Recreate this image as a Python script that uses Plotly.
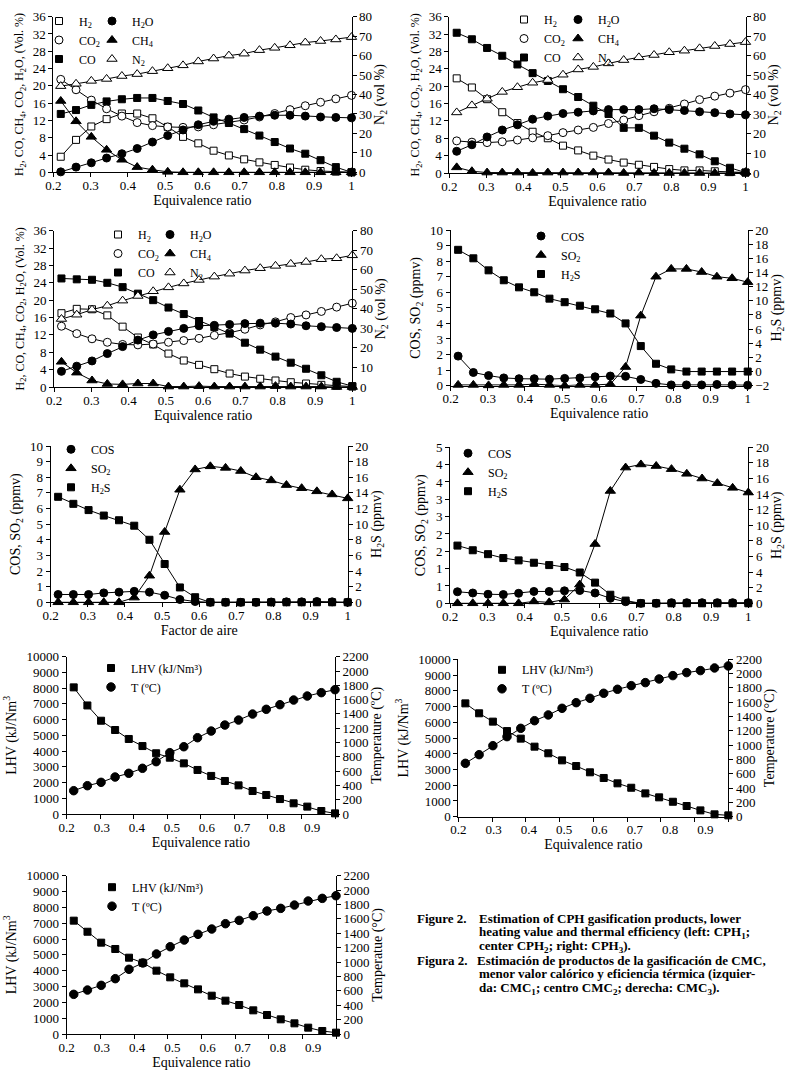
import plotly.graph_objects as go
import numpy as np

W, H = 803, 1086
FONT = "Liberation Serif"

# ---------------- data ----------------
x_er = [0.22, 0.261, 0.302, 0.343, 0.384, 0.425, 0.466, 0.507, 0.548, 0.589,
        0.63, 0.671, 0.712, 0.753, 0.794, 0.835, 0.876, 0.917, 0.958, 1.0]
x_er_lhv = [0.22, 0.259, 0.298, 0.338, 0.377, 0.416, 0.455, 0.494, 0.534, 0.573,
            0.612, 0.651, 0.69, 0.73, 0.769, 0.808, 0.847, 0.886, 0.926, 0.965]

# Panel 1 (CPH1 gas composition)
p1_h2 = [3.6, 7.5, 10.6, 12.3, 13.6, 13.6, 12.5, 10.5, 8.2, 6.7, 5.0, 3.9, 3.0, 2.3, 1.7, 1.1, 0.6, 0.3, 0.15, 0.0]
p1_co2 = [21.5, 19.1, 16.7, 14.7, 13.0, 11.5, 10.8, 10.5, 10.4, 10.5, 11.0, 11.6, 12.1, 12.8, 13.6, 14.5, 15.4, 16.2, 17.0, 17.8]
p1_co = [13.5, 14.4, 15.6, 16.4, 16.9, 17.2, 17.2, 16.5, 15.8, 14.3, 12.7, 11.4, 10.0, 8.5, 7.0, 5.5, 4.3, 2.8, 1.2, 0.0]
p1_h2o = [0.1, 1.2, 2.2, 3.3, 4.3, 5.5, 7.0, 8.5, 9.8, 11.0, 11.8, 12.3, 12.7, 13.0, 13.2, 13.2, 13.0, 12.8, 12.7, 12.6]
p1_ch4 = [16.5, 11.8, 8.2, 5.2, 2.9, 1.2, 0.6, 0.1, 0.0, 0.0, 0.0, 0.0, 0.0, 0.0, 0.0, 0.0, 0.0, 0.0, 0.0, 0.0]
p1_n2 = [44.3, 45.5, 47.0, 48.0, 49.5, 50.5, 52.0, 53.5, 55.0, 57.0, 58.5, 60.0, 61.0, 62.8, 64.0, 65.3, 66.7, 67.5, 68.3, 69.5]

# Panel 2 (CPH2 gas composition)
p2_h2 = [21.8, 19.7, 17.0, 14.0, 11.5, 9.5, 8.0, 6.3, 5.2, 4.0, 3.1, 2.4, 1.9, 1.4, 0.9, 0.6, 0.6, 0.4, 0.2, 0.1]
p2_co2 = [7.4, 7.1, 7.0, 7.2, 7.6, 8.1, 8.6, 9.3, 9.9, 10.5, 11.4, 12.2, 13.2, 14.1, 14.9, 15.9, 16.9, 17.7, 18.4, 19.2]
p2_co = [32.3, 30.8, 28.8, 27.0, 25.0, 23.0, 21.2, 19.3, 17.5, 15.5, 13.6, 10.4, 10.4, 8.6, 7.0, 5.6, 4.3, 2.7, 1.2, 0.1]
p2_h2o = [5.0, 6.5, 8.3, 9.9, 11.1, 12.4, 13.1, 13.7, 14.0, 14.3, 14.6, 14.6, 14.6, 14.8, 14.6, 14.4, 14.1, 13.9, 13.6, 13.4]
p2_ch4 = [1.3, 0.4, 0.1, 0.1, 0.1, 0.0, 0.1, 0.1, 0.1, 0.1, 0.1, 0.0, 0.1, 0.0, 0.0, 0.0, 0.0, 0.0, 0.0, 0.2]
p2_n2 = [31.0, 34.6, 38.0, 41.5, 43.9, 46.2, 47.6, 50.3, 53.0, 54.3, 56.1, 57.8, 59.2, 60.4, 61.8, 62.6, 63.8, 65.0, 66.0, 67.0]

# Panel 3 (CPH3 gas composition)
p3_h2 = [17.0, 18.0, 17.9, 16.5, 13.9, 11.4, 9.8, 7.7, 6.1, 5.1, 4.1, 3.1, 2.4, 1.9, 1.5, 1.1, 0.8, 0.5, 0.3, 0.1]
p3_co2 = [14.0, 12.3, 11.1, 10.3, 9.8, 9.7, 9.9, 10.3, 10.7, 11.2, 11.9, 12.5, 13.3, 14.3, 15.0, 16.0, 16.6, 17.4, 18.4, 19.3]
p3_co = [25.0, 24.8, 24.7, 24.0, 23.0, 21.5, 20.0, 18.3, 16.8, 15.2, 13.8, 12.3, 10.2, 8.6, 7.0, 5.6, 4.2, 2.7, 1.2, 0.2]
p3_h2o = [3.6, 4.8, 6.0, 7.7, 9.3, 10.8, 12.0, 12.8, 13.5, 14.1, 14.2, 14.4, 14.6, 14.7, 14.7, 14.5, 14.1, 13.9, 13.7, 13.5]
p3_ch4 = [5.8, 3.3, 1.5, 0.7, 0.6, 0.8, 0.8, 0.1, 0.1, 0.2, 0.1, 0.1, 0.1, 0.1, 0.2, 0.1, 0.1, 0.1, 0.0, 0.0]
p3_n2 = [34.8, 37.0, 39.6, 41.6, 44.2, 46.6, 49.0, 51.0, 53.0, 54.8, 56.5, 58.0, 59.6, 60.8, 62.0, 63.0, 64.0, 65.4, 65.9, 67.4]

# Panel 4 (sulphur species, ER)
p4_cos = [1.9, 0.85, 0.65, 0.5, 0.45, 0.45, 0.42, 0.47, 0.5, 0.57, 0.62, 0.6, 0.4, 0.15, 0.05, 0.05, 0.05, 0.08, 0.05, 0.03]
p4_so2 = [0.05, 0.05, 0.02, 0.05, 0.05, 0.1, 0.05, 0.0, 0.05, 0.05, 0.1, 1.2, 4.5, 7.0, 7.5, 7.5, 7.3, 7.0, 6.9, 6.65]
p4_h2s = [17.2, 16.0, 14.3, 12.9, 11.9, 11.2, 10.3, 9.8, 9.3, 8.8, 8.2, 6.8, 3.6, 1.1, 0.3, 0.0, 0.0, 0.0, 0.0, 0.0]

# Panel 5 (sulphur species, factor de aire)
p5_cos = [0.5, 0.5, 0.5, 0.6, 0.65, 0.7, 0.65, 0.45, 0.18, 0.05, 0.0, 0.0, 0.0, 0.0, 0.02, 0.03, 0.03, 0.05, 0.03, 0.0]
p5_so2 = [0.0, 0.0, 0.0, 0.0, 0.0, 0.3, 1.7, 4.5, 7.2, 8.5, 8.7, 8.6, 8.4, 8.0, 7.8, 7.5, 7.3, 7.1, 6.9, 6.65]
p5_h2s = [13.5, 12.6, 11.8, 11.1, 10.5, 9.8, 8.0, 4.9, 1.9, 0.65, 0.0, 0.0, 0.0, 0.0, 0.0, 0.0, 0.0, 0.0, 0.0, 0.0]

# Panel 6 (sulphur species, ER)
p6_cos = [0.37, 0.33, 0.29, 0.28, 0.32, 0.38, 0.38, 0.40, 0.41, 0.33, 0.16, 0.05, 0.0, 0.0, 0.02, 0.02, 0.02, 0.02, 0.02, 0.02]
p6_so2 = [0.0, 0.0, 0.0, 0.0, 0.0, 0.06, 0.03, 0.12, 0.6, 1.9, 3.6, 4.35, 4.45, 4.4, 4.3, 4.15, 4.0, 3.85, 3.7, 3.55]
p6_h2s = [7.4, 6.8, 6.3, 5.8, 5.5, 5.2, 4.9, 4.65, 3.95, 2.65, 1.1, 0.35, 0.0, 0.0, 0.0, 0.0, 0.0, 0.0, 0.0, 0.0]

# Panels 7-9 (LHV and temperature)
p7_lhv = [8050, 6900, 5930, 5340, 4770, 4320, 3860, 3580, 3220, 2800, 2420, 2100, 1820, 1460, 1210, 950, 680, 470, 190, 40]
p7_t = [326, 396, 443, 517, 569, 639, 732, 858, 941, 1067, 1160, 1244, 1314, 1398, 1464, 1529, 1594, 1650, 1697, 1739]
p8_lhv = [7200, 6570, 6040, 5440, 4960, 4450, 4030, 3580, 3220, 2820, 2460, 2120, 1840, 1480, 1230, 950, 680, 400, 150, 85]
p8_t = [746, 867, 993, 1119, 1235, 1342, 1422, 1515, 1594, 1655, 1725, 1781, 1832, 1874, 1925, 1972, 2014, 2042, 2079, 2107]
p9_lhv = [7160, 6460, 5770, 5370, 4820, 4500, 4000, 3580, 3200, 2820, 2420, 2105, 1830, 1495, 1200, 926, 674, 400, 190, 84]
p9_t = [551, 611, 676, 769, 899, 987, 1112, 1213, 1306, 1385, 1459, 1533, 1579, 1644, 1709, 1746, 1792, 1848, 1885, 1922]

er_ticks = [0.2, 0.3, 0.4, 0.5, 0.6, 0.7, 0.8, 0.9, 1.0]
er_ticktext = ["0.2", "0.3", "0.4", "0.5", "0.6", "0.7", "0.8", "0.9", "1"]
er_ticks_lhv = [0.2, 0.3, 0.4, 0.5, 0.6, 0.7, 0.8, 0.9]
er_ticktext_lhv = ["0.2", "0.3", "0.4", "0.5", "0.6", "0.7", "0.8", "0.9"]

GAS_L = "H<sub>2</sub>, CO, CH<sub>4</sub>, CO<sub>2</sub>, H<sub>2</sub>O, (Vol. %)"
GAS_R = "N<sub>2</sub> (vol %)"
S_L = "COS, SO<sub>2</sub> (ppmv)"
S_R = "H<sub>2</sub>S (ppmv)"
LHV_L = "LHV (kJ/Nm<sup>3</sup>"

# ---------------- layout helpers ----------------
def xp(p):
    return p / W

def yp(p):
    return 1 - p / H

def ref(kind, n):
    return kind + ("" if n == 1 else str(n))

def lname(kind, n):
    return kind + "axis" + ("" if n == 1 else str(n))

axis_common = dict(showline=True, linecolor="black", linewidth=1, ticks="outside",
                   ticklen=4, tickwidth=1, tickcolor="black", showgrid=False,
                   zeroline=False, automargin=False,
                   tickfont=dict(family=FONT, size=13, color="black"))

def gas_series(h2, co2, co, h2o, ch4, n2, la, lb):
    return [
        ("H<sub>2</sub>", h2, "L", "square", False, la, 7),
        ("CO<sub>2</sub>", co2, "L", "circle", False, la, 8),
        ("CO", co, "L", "square", True, la, 7),
        ("H<sub>2</sub>O", h2o, "L", "circle", True, lb, 8),
        ("CH<sub>4</sub>", ch4, "L", "triangle-up", True, lb, 9),
        ("N<sub>2</sub>", n2, "R", "triangle-up", False, lb, 9),
    ]

def s_series(cos, so2, h2s, la):
    return [
        ("COS", cos, "L", "circle", True, la, 8),
        ("SO<sub>2</sub>", so2, "L", "triangle-up", True, la, 9),
        ("H<sub>2</sub>S", h2s, "R", "square", True, la, 7),
    ]

def lhv_series(lhv, t, la):
    return [
        ("LHV (kJ/Nm³)", lhv, "L", "square", True, la, 7),
        ("T (ºC)", t, "R", "circle", True, la, 8.5),
    ]

p6_lt = list(np.linspace(0, 5, 10))
panels = [
    dict(box=(53.3, 351.5, 16.7, 172.3), x=x_er, xt="Equivalence ratio", lr=[0, 36], ld=4, rr=[0, 80], rd=10,
         ylt=GAS_L, yrt=GAS_R, rstand=0,
         ser=gas_series(p1_h2, p1_co2, p1_co, p1_h2o, p1_ch4, p1_n2, "legend", "legend2")),
    dict(box=(449.3, 745.5, 16.7, 173.0), x=x_er, xt="Equivalence ratio", lr=[0, 36], ld=4, rr=[0, 80], rd=10,
         ylt=GAS_L, yrt=GAS_R, rstand=2,
         ser=gas_series(p2_h2, p2_co2, p2_co, p2_h2o, p2_ch4, p2_n2, "legend3", "legend4")),
    dict(box=(54.0, 352.3, 230.7, 387.0), x=x_er, xt="Equivalence ratio", lr=[0, 36], ld=4, rr=[0, 80], rd=10,
         ylt=GAS_L, yrt=GAS_R, rstand=0,
         ser=gas_series(p3_h2, p3_co2, p3_co, p3_h2o, p3_ch4, p3_n2, "legend5", "legend6")),
    dict(box=(450.7, 747.7, 230.0, 385.7), x=x_er, xt="Equivalence ratio", lr=[0, 10], ld=1, rr=[-2, 20], rd=2,
         ylt=S_L, yrt=S_R, rstand=2, ser=s_series(p4_cos, p4_so2, p4_h2s, "legend7")),
    dict(box=(50.7, 347.7, 446.0, 602.3), x=x_er, xt="Factor de aire", lr=[0, 10], ld=1, rr=[0, 20], rd=2,
         ylt=S_L, yrt=S_R, rstand=2, ser=s_series(p5_cos, p5_so2, p5_h2s, "legend8")),
    dict(box=(450.0, 748.3, 447.3, 603.3), x=x_er, xt="Equivalence ratio", lr=[0, 5], ld=None, rr=[0, 20], rd=2,
         ylt=S_L, yrt=S_R, rstand=2, ser=s_series(p6_cos, p6_so2, p6_h2s, "legend9"),
         ltv=p6_lt, ltt=[str(int(round(v))) for v in p6_lt]),
    dict(box=(66.7, 335.0, 656.7, 814.0), x=x_er_lhv, xt="Equivalence ratio", lr=[0, 10000], ld=1000, rr=[0, 2200], rd=200,
         ylt=LHV_L, yrt="Temperature (ºC)", rstand=2, ser=lhv_series(p7_lhv, p7_t, "legend10"), lhv=True),
    dict(box=(458.3, 728.3, 659.3, 816.7), x=x_er_lhv, xt="Equivalence ratio", lr=[0, 10000], ld=1000, rr=[0, 2200], rd=200,
         ylt=LHV_L, yrt="Temperature (°C)", rstand=2, ser=lhv_series(p8_lhv, p8_t, "legend11"), lhv=True),
    dict(box=(66.7, 336.0, 875.7, 1034.0), x=x_er_lhv, xt="Equivalence ratio", lr=[0, 10000], ld=1000, rr=[0, 2200], rd=200,
         ylt=LHV_L, yrt="Temperatue (°C)", rstand=2, ser=lhv_series(p9_lhv, p9_t, "legend12"), lhv=True),
]

# legend placement: (left px, top px)
legend_pos = {
    "legend": (39, 6.5), "legend2": (92, 6.5),
    "legend3": (504, 5), "legend4": (558, 5),
    "legend5": (98, 220), "legend6": (150, 220),
    "legend7": (521, 221.5), "legend8": (51, 434.8), "legend9": (448, 438.7),
    "legend10": (91, 653.5), "legend11": (482, 655.3), "legend12": (92, 872.7),
}

fig = go.Figure()
layout = dict(template="none", width=W, height=H, margin=dict(l=0, r=0, t=0, b=0, autoexpand=False),
              paper_bgcolor="white", plot_bgcolor="white", showlegend=True,
              font=dict(family=FONT, color="black"))

title_font = dict(family=FONT, size=14, color="black")
gas_title_font = dict(family=FONT, size=12, color="black")

for k, p in enumerate(panels, start=1):
    x0, x1, yt, yb = p["box"]
    xr, yl, yr = ref("x", k), ref("y", 2 * k - 1), ref("y", 2 * k)
    xdom = [xp(x0), xp(x1)]
    ydom = [yp(yb), yp(yt)]
    xa = dict(axis_common, domain=xdom, anchor=yl, ticklabelstandoff=-3,
              title=dict(text=p["xt"], font=title_font, standoff=0))
    if p.get("lhv"):
        lo, hi = 0.2, 0.965
        xa.update(range=[lo, hi], tickmode="array", tickvals=er_ticks_lhv, ticktext=er_ticktext_lhv,
                  tickcolor="rgba(0,0,0,0)",
                  minor=dict(tickmode="array", tickvals=list(np.linspace(lo, hi, 9)), ticks="outside",
                             ticklen=4, tickcolor="black", tickwidth=1))
    else:
        xa.update(range=[0.2, 1.0], tickmode="array", tickvals=er_ticks, ticktext=er_ticktext)
    layout[lname("x", k)] = xa

    lt_font = gas_title_font if p["ylt"] == GAS_L else title_font
    ya = dict(axis_common, domain=ydom, anchor=xr, range=p["lr"], side="left",
              title=dict(text=p["ylt"], font=lt_font, standoff=6))
    if p["ld"] is None:
        ya.update(tickmode="array", tickvals=p["ltv"], ticktext=p["ltt"])
    else:
        ya.update(tick0=p["lr"][0], dtick=p["ld"], tickformat="d")
    layout[lname("y", 2 * k - 1)] = ya

    yb_ax = dict(axis_common, domain=ydom, anchor=xr, overlaying=yl, side="right",
                 range=p["rr"], tick0=p["rr"][0], dtick=p["rd"], tickformat="d",
                 title=dict(text=p["yrt"], font=title_font, standoff=p["rstand"]))
    layout[lname("y", 2 * k)] = yb_ax

    for (name, vals, side, sym, filled, leg, size) in p["ser"]:
        ya_ref = yl if side == "L" else yr
        fig.add_trace(go.Scatter(x=p["x"], y=vals, xaxis=xr, yaxis=ya_ref, mode="lines",
                                 line=dict(color="black", width=1), showlegend=False,
                                 hoverinfo="skip", cliponaxis=False))
        fig.add_trace(go.Scatter(x=p["x"], y=vals, xaxis=xr, yaxis=ya_ref, mode="markers",
                                 name=name, legend=leg, cliponaxis=False,
                                 marker=dict(symbol=sym, size=size,
                                             color="black" if filled else "white",
                                             line=dict(color="black", width=1))))

for lg, (lx, ly) in legend_pos.items():
    layout[lg] = dict(x=xp(lx), y=yp(ly), xanchor="left", yanchor="top",
                      bgcolor="rgba(0,0,0,0)", borderwidth=0, itemwidth=30,
                      font=dict(family=FONT, size=12, color="black"))

# caption
cap_font = dict(family=FONT, size=13, color="black")
caption = [
    (415, 918.3, "<b>Figure 2.</b>"),
    (477, 918.3, "<b>Estimation of CPH gasification products, lower</b>"),
    (477, 932.0, "<b>heating value and thermal efficiency (left: CPH<sub>1</sub>;</b>"),
    (477, 946.0, "<b>center CPH<sub>2</sub>; right: CPH<sub>3</sub>).</b>"),
    (415, 960.0, "<b>Figura 2.</b>"),
    (475, 960.0, "<b>Estimación de productos de la gasificación de CMC,</b>"),
    (477, 973.3, "<b>menor valor calórico y eficiencia térmica (izquier-</b>"),
    (477, 988.0, "<b>da: CMC<sub>1</sub>; centro CMC<sub>2</sub>; derecha: CMC<sub>3</sub>).</b>"),
]
layout["annotations"] = [dict(x=xp(cx), y=yp(cy), xref="paper", yref="paper", text=t,
                              showarrow=False, xanchor="left", yanchor="middle", font=cap_font)
                         for cx, cy, t in caption]

fig.update_layout(**layout)
fig.write_html("out.html", config={"displayModeBar": False},
               post_script="document.body.style.margin='0';document.body.style.overflow='hidden';")
